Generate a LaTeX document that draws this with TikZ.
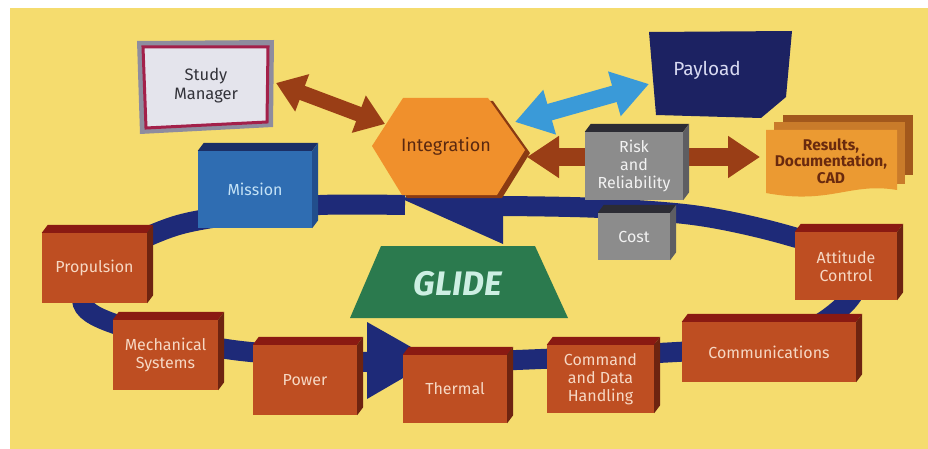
\documentclass[tikz,border=0pt]{standalone}
\usepackage{fontspec}
\setmainfont{Fira Sans}
\usetikzlibrary{arrows.meta,calc}

\definecolor{bgyellow}{HTML}{F5DC6E}
\definecolor{loopblue}{HTML}{1E2A78}
\definecolor{rustF}{HTML}{BE4E22}
\definecolor{rustT}{HTML}{8A1A12}
\definecolor{rustS}{HTML}{6E2410}
\definecolor{rustX}{HTML}{F6D8C4}
\definecolor{blueF}{HTML}{2F6DB2}
\definecolor{blueT}{HTML}{1B2F66}
\definecolor{blueS}{HTML}{224E8C}
\definecolor{blueX}{HTML}{C4E2F6}
\definecolor{greyF}{HTML}{8C8C8C}
\definecolor{greyT}{HTML}{2C2C34}
\definecolor{greyS}{HTML}{5E5E62}
\definecolor{greyX}{HTML}{F2F2F2}
\definecolor{arrbrown}{HTML}{9A3E16}
\definecolor{arrblue}{HTML}{3A9AD8}
\definecolor{intorange}{HTML}{F0902C}
\definecolor{intshadow}{HTML}{8A3A12}
\definecolor{inttext}{HTML}{5A2810}
\definecolor{payloadc}{HTML}{1C2262}
\definecolor{payloadtext}{HTML}{D8DAF2}
\definecolor{glidec}{HTML}{2B7A4E}
\definecolor{glidetext}{HTML}{CDEFE3}
\definecolor{resA}{HTML}{A2581C}
\definecolor{resB}{HTML}{C97B2A}
\definecolor{resC}{HTML}{EB9A32}
\definecolor{restext}{HTML}{6A2A0E}
\definecolor{smframe}{HTML}{8E8C9E}
\definecolor{smborder}{HTML}{A3204A}
\definecolor{smfill}{HTML}{E4E4EC}
\definecolor{smtext}{HTML}{33333A}

\newcommand{\boxfont}{\fontsize{16}{18}\selectfont}

\tikzset{
  tdface/.style={inner sep=0pt, align=center, font=\boxfont},
  loopband/.style={draw=loopblue, line width=20pt, line cap=butt},
  loophead/.style={fill=loopblue},
  dbltips/.style n args={2}{{Triangle[length=#1pt,width=#2pt]}-{Triangle[length=#1pt,width=#2pt]}},
}

\newcommand{\tdbox}[6]{%
  \node[tdface, fill=#2F, text=#2X, minimum width=#4pt, minimum height=#5pt] (#1) at #3 {#6};
  \fill[#2T] (#1.north west) -- ++(6,-8) -- ([shift={(6,-8)}]#1.north east) -- (#1.north east) -- cycle;
  \fill[#2S] (#1.north east) -- ++(6,-8) -- ([shift={(6,-8)}]#1.south east) -- (#1.south east) -- cycle;
}

\begin{document}
\begin{tikzpicture}[x=1pt,y=-1pt]
\useasboundingbox (0,0) rectangle (928,449);
\fill[white] (0,0) rectangle (928,449);
\fill[bgyellow] (10,8) rectangle (928,449);

% ---- loop band ----
\draw[loopband] plot[smooth, tension=0.55] coordinates {
  (405,205) (320,205) (255,212) (175,226) (110,258) (82,300) (115,324)
  (220,348) (300,356) (367,362) (455,362) (600,356) (770,343) (843,306)
  (858,262) (790,236) (700,216) (600,208) (503,206)};
\fill[loophead] (503,186) -- (503,244) -- (400,198) -- cycle;
\fill[loophead] (367,322) -- (367,399) -- (434,360) -- cycle;

% ---- arrow end points ----
\coordinate (smR) at (276,83);
\coordinate (intL) at (385,124);
\coordinate (intR) at (515,122);
\coordinate (payL) at (649,84);
\coordinate (intE) at (527,157);
\coordinate (resW) at (760,157);

\draw[draw=arrbrown, line width=15pt, dbltips={28}{38}] (smR) -- (intL);
\draw[draw=arrblue, line width=17pt, dbltips={36}{44}] (intR) -- (payL);
\draw[draw=arrbrown, line width=18pt, dbltips={32}{40}] (intE) -- (resW);

% ---- Study Manager ----
\fill[smframe] (137,41) -- (274,40) -- (273,127) -- (140,134) -- cycle;
\filldraw[fill=smfill, draw=smborder, line width=3pt] (143,47) -- (268,47) -- (267,122) -- (146,128) -- cycle;
\node[font=\fontsize{16.5}{19}\selectfont, text=smtext, align=center] (sm) at (206,86) {Study\\Manager};

% ---- Integration ----
\fill[intshadow] (377,149) -- (408,101) -- (493,101) -- (530,153) -- (502,198) -- (407,198) -- cycle;
\fill[intorange] (372,146) -- (403,98) -- (488,98) -- (525,150) -- (497,195) -- (402,195) -- cycle;
\node[font=\fontsize{18}{21}\selectfont, text=inttext] (integ) at (446,146) {Integration};

% ---- Payload ----
\fill[payloadc] (649,32) -- (792,31) -- (786,97) -- (761,118) -- (656,115) -- cycle;
\node[font=\fontsize{19}{22}\selectfont, text=payloadtext] (pay) at (707,70) {Payload};

% ---- Results stack ----
\fill[resA] (783,115) rectangle (913,175);
\fill[resB] (774,122) rectangle (905,184);
\fill[resC] (766,130) -- (897,130) -- (897,190) .. controls (850,182) and (830,205) .. (766,193) -- cycle;
\node[font=\fontsize{15.5}{16.5}\selectfont\bfseries, text=restext, align=center] (res) at (831,161) {Results,\\Documentation,\\CAD};

% ---- grey / blue boxes ----
\tdbox{risk}{grey}{(634,166)}{98}{68}{Risk\\and\\Reliability}
\tdbox{cost}{grey}{(634,236.5)}{72}{47}{Cost}
\tdbox{mission}{blue}{(255,189.5)}{114}{77}{Mission}

% ---- GLIDE ----
\fill[glidec] (381,246) -- (535,246) -- (568,318) -- (350,318) -- cycle;
\node[font=\fontsize{34}{36}\selectfont\bfseries\itshape, text=glidetext] (glide) at (458,284) {GLIDE};

% ---- subsystem boxes ----
\tdbox{prop}{rust}{(94.5,268)}{105}{70}{Propulsion}
\tdbox{mech}{rust}{(165.5,355)}{105}{70}{Mechanical\\Systems}
\tdbox{power}{rust}{(305,380)}{104}{70}{Power}
\tdbox{thermal}{rust}{(455,389)}{104}{68}{Thermal}
\tdbox{cdh}{rust}{(600.5,379)}{107}{68}{Command\\and Data\\Handling}
\tdbox{comm}{rust}{(769,352)}{174}{60}{Communications}
\tdbox{att}{rust}{(846,266)}{102}{68}{Attitude\\Control}
\end{tikzpicture}
\end{document}
